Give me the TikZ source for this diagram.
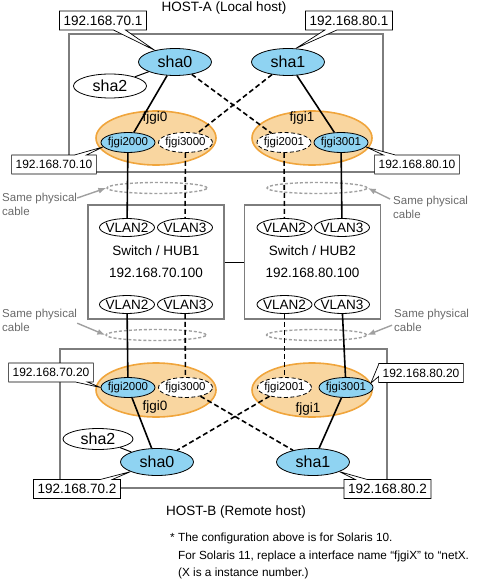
\documentclass[tikz,border=0pt]{standalone}
\usepackage{fontspec}
\setmainfont{Liberation Sans}
\usepackage{tikz}
\usetikzlibrary{shapes, arrows.meta, positioning}

\definecolor{shablue}{RGB}{143,211,242}
\definecolor{teamfill}{RGB}{249,214,160}
\definecolor{teamline}{RGB}{240,165,60}
\definecolor{boxgray}{RGB}{125,125,125}
\definecolor{cablegray}{RGB}{160,160,160}
\definecolor{notegray}{RGB}{105,105,105}

\begin{document}
\begin{tikzpicture}[x=1pt, y=-1pt,
            every node/.style={font=\fontsize{13.5}{16}\selectfont},
            host/.style={draw=boxgray, line width=1.2pt, rectangle, inner sep=0pt},
            hub/.style={draw=boxgray, line width=1.2pt, rectangle, inner sep=0pt, minimum width=136pt, minimum height=114pt, align=center, font=\fontsize{13.5}{22}\selectfont},
            sha/.style={draw, ellipse, line width=0.8pt, fill=shablue, minimum width=73pt, minimum height=27pt, inner sep=0pt, font=\fontsize{16}{18}\selectfont},
            shaw/.style={sha, fill=white, minimum height=24pt},
            team/.style={draw=teamline, ellipse, line width=1.6pt, fill=teamfill, minimum width=120pt, minimum height=54pt, inner sep=0pt},
            port/.style={draw, ellipse, line width=0.8pt, fill=shablue, minimum width=54pt, minimum height=20pt, inner xsep=-1.5pt, inner ysep=0pt, font=\fontsize{11.5}{13}\selectfont},
            portd/.style={port, fill=white, dash pattern=on 4pt off 2.5pt},
            vlan/.style={draw, ellipse, line width=0.8pt, fill=white, minimum width=55pt, minimum height=18pt, inner xsep=-2.5pt, inner ysep=0pt},
            cable/.style={draw=cablegray, ellipse, line width=1.4pt, dash pattern=on 3pt off 2pt, minimum width=100pt, minimum height=11pt, inner sep=0pt},
            cabtext/.style={anchor=north west, inner sep=0pt, align=left, text=notegray, font=\fontsize{11.5}{13.5}\selectfont},
            cabarrow/.style={-{Latex[length=8pt, width=6pt]}, draw=cablegray, fill=cablegray, line width=1.4pt},
            ipbox/.style={rectangle callout, draw, fill=white, line width=0.7pt, inner xsep=4pt, inner ysep=0pt, minimum height=19pt, callout pointer width=12pt},
            ipsmall/.style={ipbox, font=\fontsize{12}{14}\selectfont},
            link/.style={line width=1.6pt},
            dlink/.style={line width=1.6pt, dash pattern=on 5pt off 3pt}]

            \useasboundingbox (0,0) rectangle (477,583);

            \node[host, minimum width=314pt, minimum height=138pt] (hostA) at (226,103) {};
            \node[host, minimum width=327pt, minimum height=139pt] (hostB) at (223.5,418.5) {};
            \node (titleA) at (224,8) {HOST-A (Local host)};
            \node (titleB) at (236,512) {HOST-B (Remote host)};

            \node[hub] (hub1) at (156,262) {Switch / HUB1\\192.168.70.100};
            \node[hub] (hub2) at (312.5,262) {Switch / HUB2\\192.168.80.100};
            \draw[line width=0.8pt] (hub1) -- (hub2);

            \node[vlan] (vlan2a) at (127,227.5) {VLAN2};
            \node[vlan] (vlan3a) at (185,227.5) {VLAN3};
            \node[vlan] (vlan2b) at (284.5,227.5) {VLAN2};
            \node[vlan] (vlan3b) at (342,227.5) {VLAN3};
            \node[vlan] (vlan2c) at (127,304.5) {VLAN2};
            \node[vlan] (vlan3c) at (185,304.5) {VLAN3};
            \node[vlan] (vlan2d) at (284.5,304.5) {VLAN2};
            \node[vlan] (vlan3d) at (342,304.5) {VLAN3};

            \node[team] (team0a) at (156,138) {};
            \node[team] (team1a) at (312,138) {};
            \node[team] (team0b) at (156,390) {};
            \node[team] (team1b) at (312,390) {};
            \node (fjgi0a) at (155,118) {fjgi0};
            \node (fjgi1a) at (302,118) {fjgi1};
            \node (fjgi0b) at (155,407) {fjgi0};
            \node (fjgi1b) at (308,409) {fjgi1};

            \node[sha] (sha0a) at (175,62) {sha0};
            \node[sha] (sha1a) at (288,62) {sha1};
            \node[shaw] (sha2a) at (110,86) {sha2};
            \node[sha] (sha0b) at (157,462) {sha0};
            \node[sha] (sha1b) at (313,462) {sha1};
            \node[shaw, minimum width=70pt, minimum height=21pt] (sha2b) at (98,439) {sha2};

            \node[port] (fjgi2000a) at (128,142.5) {fjgi2000};
            \node[portd] (fjgi3000a) at (185.5,142.5) {fjgi3000};
            \node[portd] (fjgi2001a) at (284,142.5) {fjgi2001};
            \node[port] (fjgi3001a) at (341,142.5) {fjgi3001};
            \node[port] (fjgi2000b) at (128,387.5) {fjgi2000};
            \node[portd] (fjgi3000b) at (185.5,387.5) {fjgi3000};
            \node[portd] (fjgi2001b) at (284.5,387.5) {fjgi2001};
            \node[port] (fjgi3001b) at (346,387.5) {fjgi3001};

            \node[cable] (cabTL) at (157,188) {};
            \node[cable] (cabTR) at (317,188) {};
            \node[cable] (cabBL) at (156,335) {};
            \node[cable] (cabBR) at (316.5,335) {};
            \node[cabtext] (lblTL) at (2,193) {Same physical\\cable};
            \node[cabtext] (lblTR) at (393,196) {Same physical\\cable};
            \node[cabtext] (lblBL) at (2,309) {Same physical\\cable};
            \node[cabtext] (lblBR) at (394,309) {Same physical\\cable};
            \draw[cabarrow] ([yshift=-5pt]lblTL.north east) -- (cabTL.west);
            \draw[cabarrow] ([xshift=-3pt, yshift=-3pt]lblTR.north west) -- (cabTR.east);
            \draw[cabarrow] ([yshift=-3pt]lblBL.east) -- (cabBL.west);
            \draw[cabarrow] ([xshift=-2pt, yshift=-5pt]lblBR.west) -- (cabBR.east);

            \draw[link] (sha0a) -- (fjgi2000a);
            \draw[dlink] (sha0a) -- (fjgi2001a);
            \draw[dlink] (sha1a) -- (fjgi3000a);
            \draw[link] (sha1a) -- (fjgi3001a);
            \draw[line width=1pt] (sha2a) -- (sha0a);
            \draw[link] (fjgi2000a) -- (vlan2a);
            \draw[dlink] (fjgi3000a) -- (vlan3a);
            \draw[dlink] (fjgi2001a) -- (vlan2b);
            \draw[link] (fjgi3001a) -- (vlan3b);

            \draw[link] (vlan2c) -- (fjgi2000b);
            \draw[dlink] (vlan3c) -- (fjgi3000b);
            \draw[dlink] (vlan2d) -- (fjgi2001b);
            \draw[link] (vlan3d) -- (fjgi3001b);
            \draw[link] (fjgi2000b) -- (sha0b);
            \draw[dlink] (fjgi2001b) -- (sha0b);
            \draw[dlink] (fjgi3000b) -- (sha1b);
            \draw[link] (fjgi3001b) -- (sha1b);
            \draw[line width=1pt] (sha2b) -- (sha0b);

            \node[ipbox, callout absolute pointer={(sha0a.150)}] (ip701) at (103,20.5) {192.168.70.1};
            \node[ipbox, callout absolute pointer={(sha1a.60)}] (ip801) at (349,20.5) {192.168.80.1};
            \node[ipsmall, callout absolute pointer={(fjgi2000a.190)}] (ip7010) at (54,164.5) {192.168.70.10};
            \node[ipsmall, callout absolute pointer={(fjgi3001a.350)}] (ip8010) at (417,164.5) {192.168.80.10};
            \node[ipsmall, callout absolute pointer={(fjgi2000b.180)}] (ip7020) at (51,372.5) {192.168.70.20};
            \node[ipsmall, callout absolute pointer={(fjgi3001b.10)}] (ip8020) at (421,373) {192.168.80.20};
            \node[ipbox, callout absolute pointer={(sha0b.200)}] (ip702) at (77,489) {192.168.70.2};
            \node[ipbox, callout absolute pointer={(sha1b.340)}] (ip802) at (387.5,489) {192.168.80.2};

            \node[anchor=north west, inner sep=0pt, align=left, font=\fontsize{11.8}{17.5}\selectfont] (footnote) at (170,533) {* The configuration above is for Solaris 10.\\\phantom{* }For Solaris 11, replace a interface name “fjgiX” to “netX.\\\phantom{* }(X is a instance number.)};
        \end{tikzpicture}
\end{document}
